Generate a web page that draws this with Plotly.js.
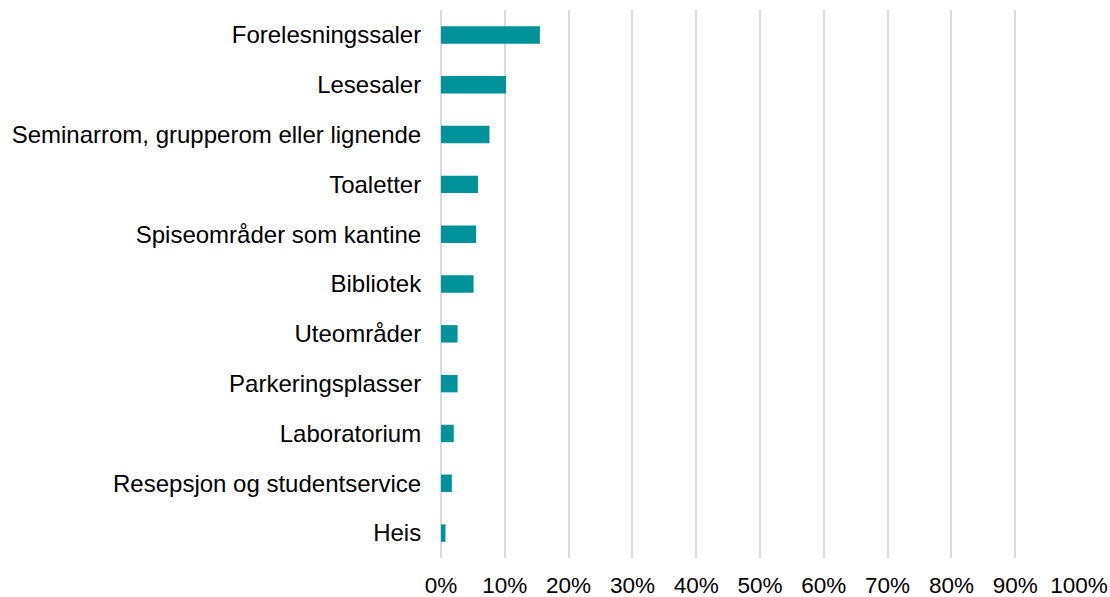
<!DOCTYPE html>
<html>
<head>
<meta charset="utf-8">
<script src="https://cdn.plot.ly/plotly-3.0.1.min.js"></script>
<style>html,body{margin:0;padding:0;background:#fff}#chart{width:1110px;height:597px}</style>
</head>
<body>
<div id="chart"></div>
<script>
const categories = ["Forelesningssaler","Lesesaler","Seminarrom, grupperom eller lignende","Toaletter","Spiseområder som kantine","Bibliotek","Uteområder","Parkeringsplasser","Laboratorium","Resepsjon og studentservice","Heis"];
const values = [0.155, 0.102, 0.076, 0.058, 0.055, 0.051, 0.026, 0.026, 0.020, 0.017, 0.007];
const tickVals = [0,0.1,0.2,0.3,0.4,0.5,0.6,0.7,0.8,0.9,1.0];
const tickText = ["0%","10%","20%","30%","40%","50%","60%","70%","80%","90%","100%"];

const trace = {
  type: 'bar',
  orientation: 'h',
  y: categories,
  x: values,
  width: 0.35,
  marker: {color: '#00929A'},
  hoverinfo: 'none'
};
const layout = {
  width: 1110, height: 597,
  margin: {l: 441, r: 31, t: 10, b: 39},
  paper_bgcolor: '#fff', plot_bgcolor: '#fff',
  font: {family: 'Arial, "Liberation Sans", sans-serif', size: 20, color: '#000'},
  showlegend: false,
  bargap: 0.65,
  xaxis: {
    range: [0, 1], tickvals: tickVals, ticktext: tickText,
    tickfont: {size: 22.5},
    showgrid: true, gridcolor: '#d9d9d9', gridwidth: 2,
    zeroline: true, zerolinecolor: '#d9d9d9', zerolinewidth: 2,
    ticks: 'outside', ticklen: 7, tickcolor: 'rgba(0,0,0,0)',
    showline: false, fixedrange: true
  },
  yaxis: {
    autorange: 'reversed', type: 'category',
    tickfont: {size: 24},
    ticks: 'outside', ticklen: 14, tickcolor: 'rgba(0,0,0,0)',
    showgrid: false, zeroline: false, showline: false, fixedrange: true
  }
};
Plotly.newPlot('chart', [trace], layout, {displayModeBar: false, staticPlot: true});
</script>
</body>
</html>
